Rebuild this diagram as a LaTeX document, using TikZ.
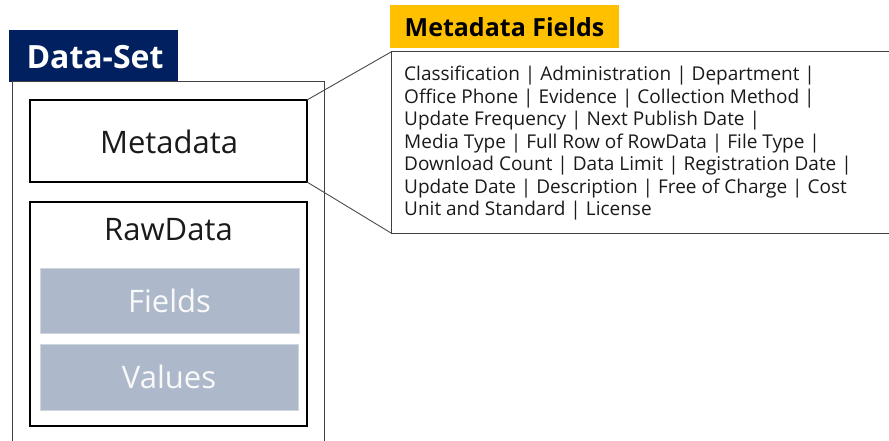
\documentclass[tikz,border=0pt]{standalone}
\usepackage{fontspec}
\setmainfont{Open Sans}
\definecolor{navy}{HTML}{002060}
\definecolor{gold}{HTML}{FFC000}
\definecolor{bluegray}{HTML}{ADB9CA}
\definecolor{txt}{HTML}{1A1A1A}
\begin{document}
\begin{tikzpicture}[x=1pt,y=-1pt,
  thickbox/.style={draw=black, line width=2.2pt},
  thinline/.style={draw=black!75, line width=1pt},
  grayfill/.style={fill=bluegray, draw=bluegray!60!white, line width=0.8pt},
  lbl/.style={inner sep=0pt, font=\fontsize{31}{36}\selectfont, text=txt}
]
\useasboundingbox (0,0) rectangle (889,441);
\begin{scope}
\clip (0,0) rectangle (889,441);
% Data-Set label
\fill[navy] (9,30) rectangle (178,82);
\node[inner sep=0pt, text=white, font=\fontsize{32}{36}\selectfont\bfseries] (dslabel) at (95,57) {Data-Set};
% outer box (open at bottom)
\draw[thinline] (12,445) -- (12,82) -- (324,82) -- (324,445);
% Metadata box
\draw[thickbox] (30,100) rectangle (307,182);
\coordinate (metaNE) at (307,100);
\coordinate (metaSE) at (307,182);
\node[lbl] (meta) at (169,142) {Metadata};
% RawData box
\draw[thickbox] (30,202) rectangle (307,426);
\node[lbl] (raw) at (168.5,230) {RawData};
\fill[grayfill] (40,268) rectangle (299,333);
\node[lbl, text=white!95!gray] (fields) at (169.5,301) {Fields};
\fill[grayfill] (40,344) rectangle (298,410);
\node[lbl, text=white!95!gray] (values) at (169,377) {Values};
% Metadata Fields label
\fill[gold] (390,5) rectangle (619,48);
\node[inner sep=0pt, text=black, font=\fontsize{25}{29}\selectfont\bfseries] (mflabel) at (504.5,27) {Metadata Fields};
% fields box
\draw[thinline] (891,52) -- (391,52) -- (391,233) -- (891,233);
\coordinate (fbNW) at (391,52);
\coordinate (fbSW) at (391,233);
\node[anchor=north west, inner sep=0pt, align=left, text=txt,
      font=\fontsize{19}{22.5}\selectfont] (list) at (404,66)
{Classification | Administration | Department |\\
Office Phone | Evidence | Collection Method |\\
Update Frequency | Next Publish Date |\\
Media Type | Full Row of RowData | File Type |\\
Download Count | Data Limit | Registration Date |\\
Update Date | Description | Free of Charge | Cost\\
Unit and Standard | License};
% connectors
\draw[draw=black!70, line width=0.9pt] (metaNE) -- (fbNW);
\draw[draw=black!70, line width=0.9pt] (metaSE) -- (fbSW);
\end{scope}
\end{tikzpicture}
\end{document}
